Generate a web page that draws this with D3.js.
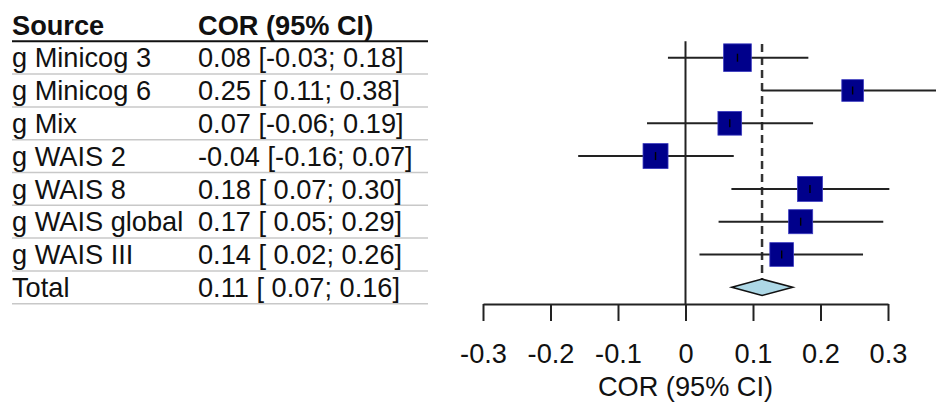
<!DOCTYPE html>
<html><head><meta charset="utf-8">
<script src="https://cdn.jsdelivr.net/npm/d3@7"></script>
<style>
html,body{margin:0;padding:0;background:#fff;}
svg{display:block;font-family:"Liberation Sans",Arial,sans-serif;}
text{white-space:pre;}
</style></head><body>
<svg id="c" width="936" height="402"></svg>
<script>
const sources = ["g Minicog 3","g Minicog 6","g Mix","g WAIS 2","g WAIS 8","g WAIS global","g WAIS III"];
const estimates = [0.077, 0.2476, 0.0656, -0.0444, 0.1844, 0.1706, 0.1425];
const lowers    = [-0.026, 0.113, -0.057, -0.159, 0.068, 0.049, 0.0207];
const uppers    = [0.182, 0.38, 0.189, 0.0715, 0.302, 0.293, 0.263];
const weights   = [18.3, 11.2, 13.4, 14.9, 14.9, 13.8, 13.4];
const totalLabel = "Total";
const totalEst = 0.1134, totalLower = 0.0686, totalUpper = 0.1588;
const headers = ["Source", "COR (95% CI)"];
const axisTicks = [-0.3, -0.2, -0.1, 0, 0.1, 0.2, 0.3];
const axisTitle = "COR (95% CI)";

const svg = d3.select("#c");
const FS = 27.2;
const x = d3.scaleLinear().domain([-0.3, 0.3]).range([483, 888]);
const rowKeys = ["header", ...sources, totalLabel];
const y = d3.scaleBand().domain(rowKeys).range([8.5, 303.7]);
const mid = k => y(k) + y.bandwidth() / 2;
const size = d3.scaleSqrt().domain([0, d3.max(weights)]).range([0, 27.7]);

const f2 = v => { const s = (Math.round(v * 100) / 100).toFixed(2); return s === "-0.00" ? "0.00" : s; };
const pad = v => (v < 0 ? "" : " ") + f2(v);
const ciText = (e, l, u) => f2(e) + " [" + pad(l) + ";" + pad(u) + "]";

const studies = sources.map((s, i) => ({s, e: estimates[i], l: lowers[i], u: uppers[i], w: weights[i]}));

// table separators
svg.selectAll("line.sep").data(rowKeys.slice(1)).join("line")
  .attr("x1", 12).attr("x2", 428)
  .attr("y1", d => y(d) + y.bandwidth()).attr("y2", d => y(d) + y.bandwidth())
  .attr("stroke", "#c8c8c8").attr("stroke-width", 1.5);
svg.append("line").attr("x1", 12).attr("x2", 428)
  .attr("y1", y("header") + y.bandwidth()).attr("y2", y("header") + y.bandwidth())
  .attr("stroke", "#111").attr("stroke-width", 2);

// headers
svg.selectAll("text.hdr").data(headers).join("text")
  .attr("x", (d, i) => i === 0 ? 12 : 198).attr("y", mid("header")).attr("dy", "0.36em")
  .attr("font-size", FS).attr("font-weight", "bold").attr("fill", "#111").text(d => d);

// table rows
const tableRows = [...studies.map(d => ({k: d.s, t: ciText(d.e, d.l, d.u)})),
  {k: totalLabel, t: ciText(totalEst, totalLower, totalUpper)}];
svg.selectAll("text.src").data(tableRows).join("text")
  .attr("x", 12).attr("y", d => mid(d.k)).attr("dy", "0.36em")
  .attr("font-size", FS).attr("fill", "#111").text(d => d.k);
svg.selectAll("text.ci").data(tableRows).join("text")
  .attr("x", 198).attr("y", d => mid(d.k)).attr("dy", "0.36em")
  .attr("font-size", FS).attr("fill", "#111").text(d => d.t);

// zero line
svg.append("line").attr("x1", x(0)).attr("x2", x(0))
  .attr("y1", y("header") + y.bandwidth()).attr("y2", 304)
  .attr("stroke", "#222").attr("stroke-width", 2);
// total dashed line
svg.append("line").attr("x1", x(totalEst)).attr("x2", x(totalEst))
  .attr("y1", 44).attr("y2", mid(totalLabel) - 8.2)
  .attr("stroke", "#333").attr("stroke-width", 2.5).attr("stroke-dasharray", "8,5");

// CI lines
svg.selectAll("line.ci").data(studies).join("line")
  .attr("x1", d => x(d.l)).attr("x2", d => x(d.u))
  .attr("y1", d => mid(d.s)).attr("y2", d => mid(d.s))
  .attr("stroke", "#222").attr("stroke-width", 2);
// squares
svg.selectAll("rect.sq").data(studies).join("rect")
  .attr("x", d => x(d.e) - size(d.w) / 2).attr("y", d => mid(d.s) - size(d.w) / 2)
  .attr("width", d => size(d.w)).attr("height", d => size(d.w))
  .attr("fill", "#00008B").attr("stroke", "#3a3ac0").attr("stroke-width", 0.8);
svg.selectAll("line.pt").data(studies).join("line")
  .attr("x1", d => x(d.e)).attr("x2", d => x(d.e))
  .attr("y1", d => mid(d.s) - 4).attr("y2", d => mid(d.s) + 4)
  .attr("stroke", "#000").attr("stroke-width", 1.4);

// diamond
const dy = mid(totalLabel);
svg.append("path")
  .attr("d", `M${x(totalLower)},${dy}L${x(totalEst)},${dy - 8.2}L${x(totalUpper)},${dy}L${x(totalEst)},${dy + 8.2}Z`)
  .attr("fill", "#ADD8E6").attr("stroke", "#111").attr("stroke-width", 1.6);

// axis
const ax = svg.append("g").attr("transform", "translate(0,304)")
  .call(d3.axisBottom(x).tickValues(axisTicks).tickSize(17).tickSizeOuter(0).tickPadding(23)
    .tickFormat(d => d === 0 ? "0" : d.toFixed(1)));
ax.selectAll("path,line").attr("stroke", "#222").attr("stroke-width", 2);
ax.selectAll("text").attr("font-size", FS).attr("fill", "#111")
  .attr("font-family", '"Liberation Sans",Arial,sans-serif');
svg.append("text").attr("x", x(0)).attr("y", 396).attr("text-anchor", "middle")
  .attr("font-size", FS).attr("fill", "#111").text(axisTitle);
</script>
</body></html>
